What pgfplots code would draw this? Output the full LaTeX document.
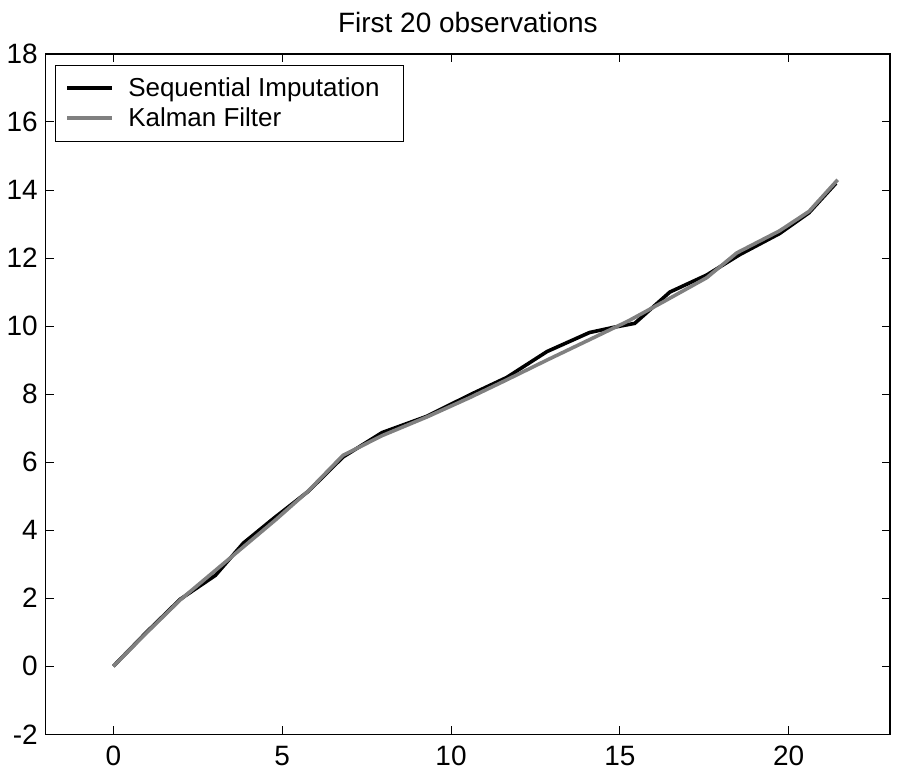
\documentclass[border=0pt]{standalone}
\usepackage{fontspec}
\setmainfont{Liberation Sans}
\usepackage{pgfplots}
\pgfplotsset{compat=1.18}

\definecolor{kfgray}{RGB}{128,128,128}

\begin{document}
\begin{tikzpicture}
  \begin{axis}[
      scale only axis,
      width=422.5pt, height=340.5pt,
      xmin=-2, xmax=23, ymin=-2, ymax=18,
      xtick={0,5,...,20}, ytick={-2,0,...,18},
      tick align=inside, major tick length=4pt,
      tick style={black, line width=0.5pt},
      axis line style={line width=0.6pt},
      /pgf/number format/assume math mode=true,
      tick label style={font=\fontsize{14}{16}\selectfont},
      xticklabel style={yshift=-2.5pt},
      yticklabel style={xshift=-0.5pt},
      title={First 20 observations},
      title style={font=\fontsize{14}{16}\selectfont, yshift=1pt},
      legend cell align=left,
      legend style={at={(0,1)}, anchor=north west, xshift=4.5pt, yshift=-5.5pt,
        font=\fontsize{13}{15.5}\selectfont, draw=black, line width=0.5pt,
        row sep=0pt, inner xsep=4pt, inner ysep=4pt},
      legend image code/.code={\path[draw=none] (0pt,0pt) -- (30.5pt,0pt);
        \draw[#1, line width=2pt] (2pt,0pt) -- (24.5pt,0pt);},
    ]
    \addplot[black, line width=1.8pt] coordinates {
      (0,0) (0.98,1.0) (1.98,1.97) (3.02,2.67) (3.85,3.62) (4.75,4.35)
      (5.77,5.14) (6.8,6.15) (7.96,6.87) (9.29,7.35) (10.56,7.98)
      (11.65,8.49) (12.84,9.25) (14.1,9.81) (14.8,9.96) (15.44,10.08)
      (16.48,11.0) (17.57,11.5) (18.55,12.1) (19.73,12.72) (20.6,13.33)
      (21.4,14.2)
    };
    \addlegendentry{Sequential Imputation\rule{6pt}{0pt}}
    \addplot[kfgray, line width=1.8pt] coordinates {
      (0,0) (0.98,0.98) (1.98,1.95) (3.0,2.8) (3.9,3.55) (4.8,4.3)
      (5.77,5.15) (6.8,6.2) (7.96,6.78) (9.29,7.33) (10.56,7.9)
      (11.65,8.42) (12.84,9.0) (14.1,9.6) (15.25,10.15) (16.3,10.72)
      (17.57,11.42) (18.46,12.15) (19.73,12.8) (20.6,13.37) (21.45,14.3)
    };
    \addlegendentry{Kalman Filter}
  \end{axis}
  \path (current axis.south west) ++(-22.5pt,-19.5pt);
  \path (current axis.north east) ++(5.5pt,27pt);
\end{tikzpicture}
\end{document}
